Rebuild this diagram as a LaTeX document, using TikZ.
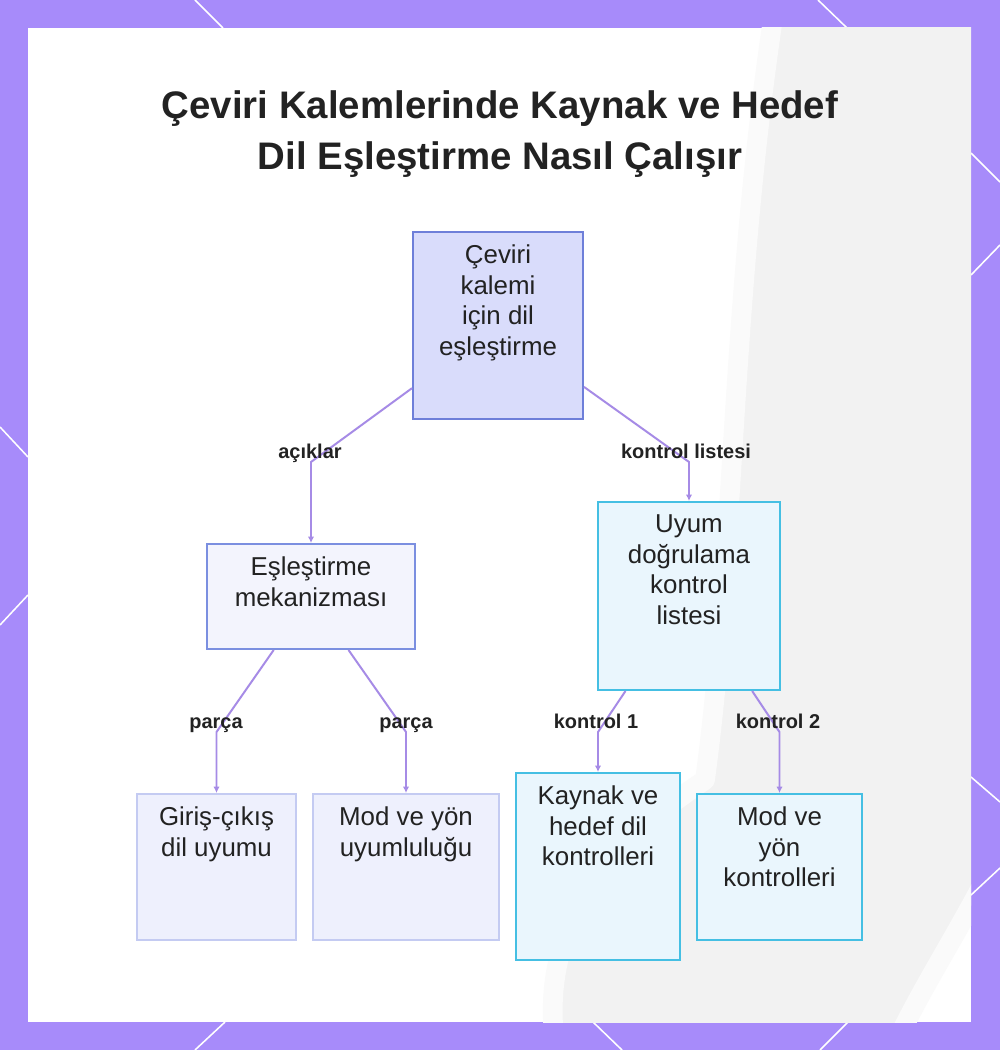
\documentclass[tikz,border=0pt]{standalone}
\usepackage{fontspec}
\setmainfont{Liberation Sans}
\usepackage{xcolor}
\usetikzlibrary{arrows.meta}

\definecolor{frame}{HTML}{A78BFA}
\definecolor{ink}{HTML}{222222}
\definecolor{edgecol}{HTML}{A68BE6}
\definecolor{rootfill}{HTML}{D9DCFB}
\definecolor{rootline}{HTML}{6E7FD9}
\definecolor{midfill}{HTML}{F3F4FD}
\definecolor{midline}{HTML}{7B8FE0}
\definecolor{leaffill}{HTML}{EEF0FD}
\definecolor{leafline}{HTML}{C4CBF2}
\definecolor{cyanfill}{HTML}{EAF6FD}
\definecolor{cyanline}{HTML}{45BFE3}

\tikzset{
  box/.style={rectangle, line width=1.4pt, inner sep=0pt},
  rootbox/.style={box, draw=rootline, fill=rootfill},
  midbox/.style={box, draw=midline, fill=midfill},
  leafbox/.style={box, draw=leafline, fill=leaffill},
  cyanbox/.style={box, draw=cyanline, fill=cyanfill},
  boxtext/.style={anchor=north, yshift=-0.34cm, inner sep=0pt, align=center,
    text=ink, font=\fontsize{18.4}{21.8}\selectfont},
  lbl/.style={anchor=base, inner sep=0pt, text=ink,
    font=\bfseries\fontsize{14.2}{17}\selectfont},
  edge/.style={draw=edgecol, line width=1.4pt, -{Latex[length=4.5pt,width=4.5pt]}},
  deco/.style={draw=white, line width=1.1pt}
}

\begin{document}
\begin{tikzpicture}[x=0.025cm, y=-0.025cm]
\useasboundingbox (0,0) rectangle (1000,1050);

% frame and panel
\fill[frame] (0,0) rectangle (1000,1050);
\draw[deco] (195,0)--(223,28);
\draw[deco] (818,0)--(847,28);
\draw[deco] (971,153)--(1000,182);
\draw[deco] (971,275)--(1000,245);
\draw[deco] (971,777)--(1000,802);
\draw[deco] (971,895)--(1000,868);
\draw[deco] (0,427)--(28,457);
\draw[deco] (28,595)--(0,625);
\draw[deco] (225,1022)--(195,1050);
\draw[deco] (593,1022)--(622,1050);
\draw[deco] (848,1022)--(820,1050);
\fill[white] (28,28) rectangle (971,1022);

% faint background
\begin{scope}
\clip (28,28) rectangle (971,1022);
\draw[black!2, fill=black!5, line width=14pt, line join=round] (775,5) -- (995,5) -- (995,860)
  .. controls (960,930) and (920,990) .. (895,1045) -- (555,1045)
  .. controls (540,930) and (600,850) .. (705,780) .. controls (735,560) and (730,300) .. (775,5);
\end{scope}

% title
\node[anchor=north, align=center, text=ink, inner sep=0pt,
  font=\bfseries\fontsize{27.3}{36.9}\selectfont] (title) at (500,90)
  {Çeviri Kalemlerinde Kaynak ve Hedef\\Dil Eşleştirme Nasıl Çalışır};

% boxes
\node[rootbox, minimum width=4.25cm, minimum height=4.675cm] (root) at (498,325.5) {};
\node[midbox, minimum width=5.2cm, minimum height=2.625cm] (esl) at (311,596.5) {};
\node[cyanbox, minimum width=4.55cm, minimum height=4.7cm] (uyum) at (689,596) {};
\node[leafbox, minimum width=3.975cm, minimum height=3.65cm] (giris) at (216.5,867) {};
\node[leafbox, minimum width=4.65cm, minimum height=3.65cm] (modyon) at (406,867) {};
\node[cyanbox, minimum width=4.1cm, minimum height=4.675cm] (kaynak) at (598,866.5) {};
\node[cyanbox, minimum width=4.125cm, minimum height=3.65cm] (modkont) at (779.5,867) {};

\node[boxtext] (rootT) at (root.north) {Çeviri\\kalemi\\için dil\\eşleştirme};
\node[boxtext] (eslT) at (esl.north) {Eşleştirme\\mekanizması};
\node[boxtext] (uyumT) at (uyum.north) {Uyum\\doğrulama\\kontrol\\listesi};
\node[boxtext] (girisT) at (giris.north) {Giriş-çıkış\\dil uyumu};
\node[boxtext] (modyonT) at (modyon.north) {Mod ve yön\\uyumluluğu};
\node[boxtext] (kaynakT) at (kaynak.north) {Kaynak ve\\hedef dil\\kontrolleri};
\node[boxtext] (modkontT) at (modkont.north) {Mod ve\\yön\\kontrolleri};

% bends
\coordinate (bAc) at (311,462);
\coordinate (bKl) at (689,462);
\coordinate (bP1) at (216.5,732);
\coordinate (bP2) at (406,732);
\coordinate (bK1) at (598,732);
\coordinate (bK2) at (779.5,732);

\draw[edge] (root) -- (bAc) -- (esl);
\draw[edge] (root) -- (bKl) -- (uyum);
\draw[edge] (esl) -- (bP1) -- (giris);
\draw[edge] (esl) -- (bP2) -- (modyon);
\draw[edge] (uyum) -- (bK1) -- (kaynak);
\draw[edge] (uyum) -- (bK2) -- (modkont);

\node[lbl] (lAc) at (310,458) {açıklar};
\node[lbl] (lKl) at (686,458) {kontrol listesi};
\node[lbl] (lP1) at (216,728) {parça};
\node[lbl] (lP2) at (406,728) {parça};
\node[lbl] (lK1) at (596,728) {kontrol 1};
\node[lbl] (lK2) at (778,728) {kontrol 2};

\end{tikzpicture}
\end{document}
